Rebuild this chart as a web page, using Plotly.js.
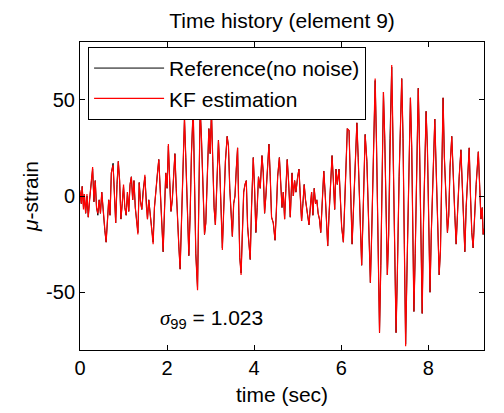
<!DOCTYPE html>
<html>
<head>
<meta charset="utf-8">
<script src="https://cdn.plot.ly/plotly-3.0.1.min.js"></script>
<style>html,body{margin:0;padding:0;background:#fff;}#chart{width:504px;height:413px;}</style>
</head>
<body>
<div id="chart"></div>
<script>
// time in seconds
const time = [0.00,0.03,0.05,0.08,0.10,0.13,0.16,0.19,0.22,0.25,
0.29,0.32,0.35,0.38,0.41,0.44,0.47,0.50,0.53,0.57,
0.60,0.63,0.66,0.69,0.72,0.76,0.79,0.82,0.85,0.88,
0.91,0.94,0.97,1.00,1.03,1.06,1.09,1.12,1.15,1.18,
1.21,1.24,1.27,1.30,1.33,1.36,1.39,1.42,1.45,1.49,
1.52,1.55,1.58,1.61,1.64,1.68,1.71,1.74,1.78,1.81,
1.84,1.87,1.91,1.94,1.97,2.00,2.03,2.06,2.09,2.12,
2.15,2.18,2.21,2.24,2.27,2.30,2.33,2.36,2.40,2.43,
2.46,2.50,2.53,2.56,2.60,2.63,2.66,2.70,2.73,2.76,
2.79,2.83,2.86,2.89,2.92,2.96,2.99,3.02,3.05,3.08,
3.11,3.14,3.18,3.21,3.24,3.27,3.30,3.34,3.38,3.41,
3.44,3.47,3.50,3.53,3.56,3.59,3.62,3.65,3.67,3.70,
3.73,3.76,3.79,3.82,3.85,3.88,3.91,3.94,3.98,4.01,
4.04,4.07,4.10,4.14,4.18,4.21,4.24,4.27,4.30,4.34,
4.37,4.40,4.44,4.48,4.51,4.54,4.58,4.61,4.64,4.67,
4.70,4.73,4.76,4.79,4.83,4.87,4.90,4.93,4.96,5.00,
5.03,5.06,5.09,5.12,5.15,5.18,5.22,5.26,5.29,5.32,
5.35,5.38,5.41,5.44,5.47,5.50,5.53,5.56,5.60,5.63,
5.66,5.69,5.72,5.75,5.79,5.82,5.85,5.88,5.91,5.95,
5.98,6.01,6.05,6.08,6.11,6.14,6.18,6.21,6.25,6.28,
6.31,6.36,6.39,6.43,6.47,6.50,6.55,6.59,6.63,6.67,
6.70,6.74,6.78,6.81,6.85,6.88,6.91,6.94,6.97,7.00,
7.03,7.06,7.09,7.12,7.16,7.19,7.23,7.26,7.29,7.33,
7.39,7.42,7.45,7.48,7.51,7.55,7.59,7.62,7.64,7.67,
7.70,7.73,7.77,7.80,7.83,7.86,7.89,7.92,7.95,7.98,
8.01,8.04,8.07,8.11,8.15,8.18,8.22,8.25,8.28,8.31,
8.34,8.37,8.41,8.44,8.47,8.50,8.54,8.57,8.61,8.64,
8.67,8.71,8.75,8.78,8.81,8.84,8.87,8.91,8.94,8.97,
9.00,9.03,9.06,9.10,9.15,9.18,9.21,9.24,9.26,9.28];

// reference strain (no noise), micro-strain
const refStrain = [2,-4,5,-6,1,-9,0,-11,-2,6,
14,-3,8,-6,-10,-2,-9,2,-8,-18,
-24,-14,-2,-10,12,17,2,-14,6,18,
8,-12,-4,5,-6,-10,2,-8,6,10,
-2,8,-6,-12,-19,7,-3,-7,3,10,
-4,-12,-2,-8,-16,-24,-6,4,12,19,
2,-14,-29,-8,12,4,26,8,-8,-2,
10,22,4,-16,-26,-38,-12,18,40,20,
-8,-31,-10,22,46,12,-30,-48,-8,46,
30,-4,-20,-14,10,35,22,44,18,-6,
-15,4,29,14,-10,-27,-8,18,31,26,
4,-12,-21,-4,0,14,25,-10,-32,-40,
-20,2,6,8,-16,-26,-33,-6,20,4,
-19,-6,10,4,21,12,-9,0,14,27,
10,-11,-14,-23,-8,10,20,4,-6,2,
-12,4,19,8,-11,12,0,8,2,10,
14,0,-13,-4,6,-2,-8,-15,-6,2,
-10,4,-4,-2,-9,-12,-19,-6,13,2,
-14,-26,-10,6,21,8,-7,14,6,14,
0,-16,-24,-4,20,35,34,10,-25,-8,
7,38,20,-10,-36,-12,32,18,-20,-45,
-20,20,60,28,-30,-71,-36,10,54,30,
-10,-41,-20,30,67,30,-20,-71,-40,10,
61,30,-25,-77,-40,10,51,25,-20,-60,
-30,10,56,25,-20,-61,-14,10,44,25,
-10,-50,-19,10,40,15,-15,-41,-28,10,
51,20,-5,-19,-10,15,31,10,-10,-25,
-8,10,24,5,-12,-29,-6,12,25,0,
-19,-27,-10,6,23,8,-12,-6,-20,-17];

// Kalman filter estimate, micro-strain
const kfStrain = [3,-4,5,-7,1,-9,1,-11,-2,6,
15,-3,8,-6,-9,-2,-9,2,-8,-17,
-24,-14,-2,-10,12,16,2,-14,6,18,
8,-12,-4,6,-6,-10,2,-8,6,10,
-2,8,-6,-12,-20,7,-3,-7,3,11,
-4,-12,-2,-8,-16,-25,-6,4,12,19,
2,-14,-29,-8,12,4,27,8,-8,-2,
10,22,4,-16,-26,-38,-12,18,41,20,
-8,-31,-10,22,46,12,-30,-49,-8,46,
30,-4,-20,-14,10,35,22,44,18,-6,
-15,4,29,14,-10,-28,-8,18,31,26,
4,-12,-21,-4,0,14,25,-10,-32,-41,
-20,2,6,8,-16,-26,-33,-6,20,4,
-19,-6,10,4,21,12,-9,0,14,27,
10,-11,-14,-23,-8,10,20,4,-6,2,
-12,4,19,8,-11,12,0,8,2,10,
14,0,-13,-4,6,-2,-8,-15,-6,2,
-10,4,-4,-2,-9,-12,-19,-6,13,2,
-14,-26,-10,6,21,8,-7,14,6,14,
0,-16,-24,-4,20,35,34,10,-25,-8,
7,38,20,-10,-36,-12,32,18,-20,-45,
-20,20,61,28,-30,-71,-36,10,54,30,
-10,-41,-20,30,68,30,-20,-71,-40,10,
61,30,-25,-78,-40,10,51,25,-20,-60,
-30,10,56,25,-20,-61,-14,10,44,25,
-10,-50,-19,10,40,15,-15,-41,-28,10,
51,20,-5,-19,-10,15,31,10,-10,-25,
-8,10,24,5,-12,-29,-6,12,25,0,
-19,-27,-10,6,23,8,-12,-6,-20,-17];

const xTicks = [0, 2, 4, 6, 8];
const xTickText = ['0', '2', '4', '6', '8'];
const yTicks = [-50, 0, 50];
const yTickText = ['-50', '0', '50'];

const FONT = 'Liberation Sans, Arial, sans-serif';

const traces = [
  {x: time, y: refStrain, type: 'scatter', mode: 'lines', name: 'Reference(no noise)',
   line: {color: '#000000', width: 1}},
  {x: time, y: kfStrain, type: 'scatter', mode: 'lines', name: 'KF estimation',
   line: {color: '#ff0000', width: 1.2}}
];

const axisCommon = {
  showline: true, linecolor: '#000', linewidth: 1, mirror: 'ticks',
  ticks: 'inside', ticklen: 5, tickcolor: '#000', tickwidth: 1,
  showgrid: false, zeroline: false,
  tickfont: {family: FONT, size: 20, color: '#000'}
};

const layout = {
  width: 504, height: 413,
  margin: {l: 80, r: 20, t: 42, b: 63},
  paper_bgcolor: '#fff', plot_bgcolor: '#fff',
  showlegend: true,
  title: {text: 'Time history (element 9)', font: {family: FONT, size: 21, color: '#000'},
          x: 0.5, xref: 'paper', y: 0.95, yref: 'container', yanchor: 'middle'},
  xaxis: Object.assign({}, axisCommon, {
    range: [0, 9.28], tickvals: xTicks, ticktext: xTickText,
    title: {text: 'time (sec)', font: {family: FONT, size: 21, color: '#000'}, standoff: 9}
  }),
  yaxis: Object.assign({}, axisCommon, {
    range: [-80, 80], tickvals: yTicks, ticktext: yTickText,
    title: {text: '<i>μ</i>-strain', font: {family: FONT, size: 21, color: '#000'}, standoff: 1}
  }),
  legend: {
    x: 0.02, y: 0.984, xanchor: 'left', yanchor: 'top',
    bgcolor: '#fff', bordercolor: '#000', borderwidth: 1,
    font: {family: FONT, size: 21, color: '#000'},
    itemwidth: 70, tracegroupgap: 0
  },
  annotations: [{
    xref: 'x', yref: 'y', x: 1.79, y: -64, xanchor: 'left', yanchor: 'middle',
    showarrow: false,
    text: '<span style="font-family:Liberation Serif, serif"><i>σ</i></span><sub>99</sub> = 1.023',
    font: {family: FONT, size: 21, color: '#000'}
  }]
};

Plotly.newPlot('chart', traces, layout, {displayModeBar: false, staticPlot: true});
</script>
</body>
</html>
